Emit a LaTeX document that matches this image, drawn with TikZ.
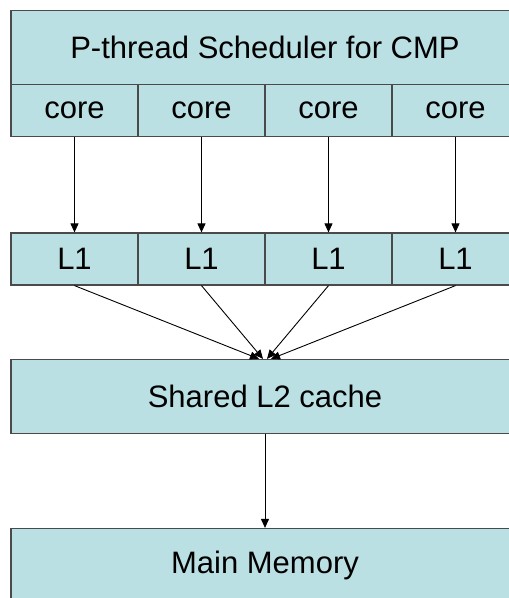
\documentclass[tikz,border=0pt]{standalone}
\usepackage{fontspec}
\setmainfont{Liberation Sans}
\usetikzlibrary{arrows.meta,calc}
\definecolor{boxfill}{HTML}{BBE0E3}
\definecolor{boxline}{HTML}{4A4A4A}
\tikzset{
  blk/.style={draw=boxline, fill=boxfill, line width=1.2pt, inner sep=0pt,
    minimum width=#1, minimum height=74pt, font=\fontsize{31}{36}\selectfont},
  cell/.style={draw=boxline, fill=boxfill, line width=1.2pt, inner sep=0pt,
    minimum width=127pt, minimum height=52pt, font=\fontsize{31}{36}\selectfont},
  conn/.style={draw=black, line width=0.9pt, -{Triangle[length=9pt,width=8pt]}}
}
\begin{document}
\begin{tikzpicture}[x=1pt,y=-1pt]
\useasboundingbox (0,0) rectangle (509,598);
\clip (0,0) rectangle (509,598);
\node[blk=508pt] (sched) at (265,47.5) {P-thread Scheduler for CMP};
\foreach \i/\x in {1/74.5,2/201.5,3/328.5,4/455.5}{
  \node[cell] (core\i) at (\x,110.5) {core};
  \node[cell] (l1\i) at (\x,259) {L1};
}
\node[blk=508pt] (l2) at (265,396.5) {Shared L2 cache};
\node[blk=508pt] (mem) at (265,565.5) {Main Memory};
\foreach \i in {1,...,4}{
  \draw[conn] (core\i.south) -- (l1\i.north);
}
\coordinate (e1) at ($(l2.north)+(-6,0)$);
\coordinate (e2) at ($(l2.north)+(-2,0)$);
\coordinate (e3) at ($(l2.north)+(2,0)$);
\coordinate (e4) at ($(l2.north)+(6,0)$);
\foreach \i in {1,...,4}{
  \draw[conn] (l1\i.south) -- (e\i);
}
\draw[conn] (l2.south) -- (mem.north);
\end{tikzpicture}
\end{document}
